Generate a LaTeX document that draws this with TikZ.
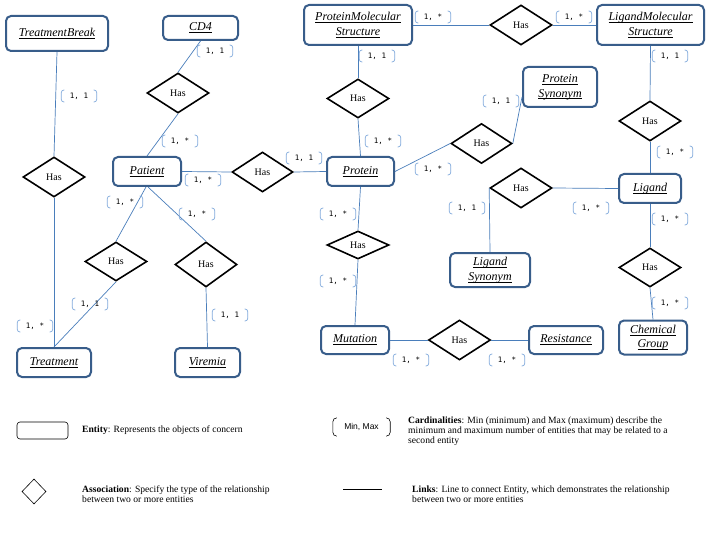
\documentclass[tikz,border=0pt]{standalone}
\usepackage{amsmath}
\usepackage{fontspec}
\setmainfont{Liberation Serif}
\newfontfamily\cardff{DejaVu Sans Mono}
\newfontfamily\legsans{Liberation Sans}
\usetikzlibrary{shapes.geometric}

\definecolor{entb}{RGB}{56,93,138}
\definecolor{lnkc}{RGB}{74,126,187}
\definecolor{brkc}{RGB}{130,170,220}
\newcommand\ulx[1]{\underline{\smash[b]{#1}}}

\tikzset{
 ent/.style={draw=entb, line width=2pt, rounded corners=5pt, inner sep=0pt, font=\fontsize{12}{14.5}\selectfont\itshape, align=center, fill=white},
 rel/.style={diamond, draw=black, line width=1.6pt, inner sep=0pt, minimum width=62pt, minimum height=40pt, font=\fontsize{10}{11}\selectfont, fill=white},
 lnk/.style={draw=lnkc, line width=0.7pt},
 card/.style={inner sep=0pt, minimum width=35pt, minimum height=11.5pt, font=\cardff\fontsize{7.5}{8}\selectfont},
 brkline/.style={draw=brkc, line width=0.7pt, rounded corners=2.5pt},
 leg/.style={anchor=west, align=left, inner sep=0pt, font=\fontsize{9.6}{10.2}\selectfont},
}

\begin{document}
\begin{tikzpicture}[x=1pt,y=-1pt]
\fill[white] (0,0) rectangle (720,540);
\useasboundingbox (0,0) rectangle (720,540);

% entities
\node[ent, minimum width=102pt, minimum height=35pt] (TB) at (57,33.5) {\ulx{TreatmentBreak}};
\node[ent, minimum width=75pt, minimum height=24pt] (CD4) at (200.5,28) {\ulx{CD4}};
\node[ent, minimum width=108pt, minimum height=40pt] (PMS) at (358,25) {\ulx{ProteinMolecular}\\\ulx{Structure}};
\node[ent, minimum width=107pt, minimum height=40pt] (LMS) at (650.5,25) {\ulx{LigandMolecular}\\\ulx{Structure}};
\node[ent, minimum width=74pt, minimum height=40pt] (PSyn) at (560,87) {\ulx{Protein}\\\ulx{Synonym}};
\node[ent, minimum width=68pt, minimum height=29pt] (Pat) at (147,171.5) {\ulx{Patient}};
\node[ent, minimum width=67pt, minimum height=29pt] (Prot) at (360.5,171.5) {\ulx{Protein}};
\node[ent, minimum width=62pt, minimum height=29pt] (Lig) at (650,188.5) {\ulx{Ligand}};
\node[ent, minimum width=80pt, minimum height=34pt] (LSyn) at (490,270) {\ulx{Ligand}\\\ulx{Synonym}};
\node[ent, minimum width=74pt, minimum height=29pt] (Treat) at (54,362.5) {\ulx{Treatment}};
\node[ent, minimum width=65pt, minimum height=29pt] (Vir) at (207.5,362.5) {\ulx{Viremia}};
\node[ent, minimum width=68pt, minimum height=28pt] (Mut) at (355,340) {\ulx{Mutation}};
\node[ent, minimum width=74pt, minimum height=28pt] (Res) at (566,340) {\ulx{Resistance}};
\node[ent, minimum width=68pt, minimum height=34pt] (Chem) at (653,337.5) {\ulx{Chemical}\\\ulx{Group}};

% associations
\node[rel] (hTB) at (54,177) {Has};
\node[rel] (hCD4) at (178,93) {Has};
\node[rel, minimum width=61pt] (hPP) at (262.5,172) {Has};
\node[rel, minimum height=39pt] (hPT) at (116,261.5) {Has};
\node[rel, minimum height=45pt] (hPV) at (206,264.5) {Has};
\node[rel, minimum height=39pt] (hPMS) at (358,98.5) {Has};
\node[rel] (hPL) at (521,25) {Has};
\node[rel, minimum width=61pt] (hPSyn) at (481.5,143.5) {Has};
\node[rel] (hLMS) at (650,121) {Has};
\node[rel] (hLSyn) at (521,188) {Has};
\node[rel, minimum height=39pt] (hChem) at (650,267.5) {Has};
\node[rel, minimum height=28pt] (hMut) at (358,245) {Has};
\node[rel] (hRes) at (459.5,340) {Has};

% links
\draw[lnk] (TB.south) -- (hTB.north);
\draw[lnk] (hTB.south) -- (Treat.north);
\draw[lnk] (CD4.south) -- (hCD4.north);
\draw[lnk] (hCD4.south) -- (Pat.north);
\draw[lnk] (Pat.east) -- (hPP.west);
\draw[lnk] (hPP.east) -- (Prot.west);
\draw[lnk] ([xshift=-1pt]Pat.south) -- (hPT.north);
\draw[lnk] (hPT.south) -- (Treat.north);
\draw[lnk] ([xshift=1pt]Pat.south) -- (hPV.north);
\draw[lnk] (hPV.south) -- (Vir.north);
\draw[lnk] (PMS.south) -- (hPMS.north);
\draw[lnk] (hPMS.south) -- (Prot.north);
\draw[lnk] (PMS.east) -- (hPL.west);
\draw[lnk] (hPL.east) -- (LMS.west);
\draw[lnk] (Prot.east) -- (hPSyn.west);
\draw[lnk] (hPSyn.east) -- ([yshift=-10pt]PSyn.west);
\draw[lnk] (LMS.south) -- (hLMS.north);
\draw[lnk] (hLMS.south) -- (Lig.north);
\draw[lnk] (Lig.west) -- (hLSyn.east);
\draw[lnk] (hLSyn.west) -- (LSyn.north);
\draw[lnk] (Lig.south) -- (hChem.north);
\draw[lnk] (hChem.south) -- (Chem.north);
\draw[lnk] (Prot.south) -- (hMut.north);
\draw[lnk] (hMut.south) -- (Mut.north);
\draw[lnk] (Mut.east) -- (hRes.west);
\draw[lnk] (hRes.east) -- (Res.west);

% cardinalities
\node[card] (c1) at (79,96) {1, 1};
\node[card] (c2) at (215,51) {1, 1};
\node[card] (c3) at (180,141) {1, *};
\node[card] (c4) at (203,180) {1, *};
\node[card] (c5) at (125,202) {1, *};
\node[card] (c6) at (197,214) {1, *};
\node[card] (c7) at (90,304) {1, 1};
\node[card] (c8) at (35,326) {1, *};
\node[card] (c9) at (230,315) {1, 1};
\node[card] (c10) at (433,17) {1, *};
\node[card] (c11) at (377,56) {1, 1};
\node[card] (c12) at (383,141) {1, *};
\node[card] (c13) at (304,158) {1, 1};
\node[card] (c14) at (433,169) {1, *};
\node[card] (c15) at (574,17) {1, *};
\node[card] (c16) at (670,56) {1, 1};
\node[card] (c17) at (501,101) {1, 1};
\node[card] (c18) at (675,152) {1, *};
\node[card] (c19) at (467,208) {1, 1};
\node[card] (c20) at (591,208) {1, *};
\node[card] (c21) at (670,219) {1, *};
\node[card] (c22) at (670,303) {1, *};
\node[card] (c23) at (338,214) {1, *};
\node[card] (c24) at (338,281) {1, *};
\node[card] (c25) at (411,360) {1, *};
\node[card] (c26) at (507,360) {1, *};
\foreach \n in {c1,c2,c3,c4,c5,c6,c7,c8,c9,c10,c11,c12,c13,c14,c15,c16,c17,c18,c19,c20,c21,c22,c23,c24,c25,c26}{
  \draw[brkline] ([xshift=3pt]\n.north west) -- (\n.north west) -- (\n.south west) -- ([xshift=3pt]\n.south west);
  \draw[brkline] ([xshift=-3pt]\n.north east) -- (\n.north east) -- (\n.south east) -- ([xshift=-3pt]\n.south east);
}

% legend
\node[draw=black, line width=0.6pt, rounded corners=3pt, minimum width=51pt, minimum height=17pt, inner sep=0pt] (Lent) at (42.5,430.5) {};
\node[leg] (Tent) at (82,430) {\textbf{Entity}: Represents the objects of concern};
\node[diamond, draw=black, line width=0.6pt, minimum width=24pt, minimum height=25pt, inner sep=0pt] (Lrel) at (34,491.5) {};
\node[leg] (Trel) at (82,494) {\textbf{Association}: Specify the type of the relationship\\between two or more entities};
\node[inner sep=0pt, minimum width=57pt, minimum height=18pt, font=\legsans\fontsize{8.5}{9}\selectfont] (Lcard) at (361.5,427) {Min, Max};
\draw[black, line width=0.6pt, rounded corners=4pt] ([xshift=4pt]Lcard.north west) -- (Lcard.north west) -- (Lcard.south west) -- ([xshift=4pt]Lcard.south west);
\draw[black, line width=0.6pt, rounded corners=4pt] ([xshift=-4pt]Lcard.north east) -- (Lcard.north east) -- (Lcard.south east) -- ([xshift=-4pt]Lcard.south east);
\node[leg] (Tcard) at (408,431) {\textbf{Cardinalities}: Min (minimum) and Max (maximum) describe the\\minimum and maximum number of entities that may be related to a\\second entity};
\coordinate (L1) at (343,489);
\coordinate (L2) at (382,489);
\draw[black, line width=0.6pt] (L1) -- (L2);
\node[leg] (Tlink) at (412,494) {\textbf{Links}: Line to connect Entity, which demonstrates the relationship\\between two or more entities};
\end{tikzpicture}
\end{document}
